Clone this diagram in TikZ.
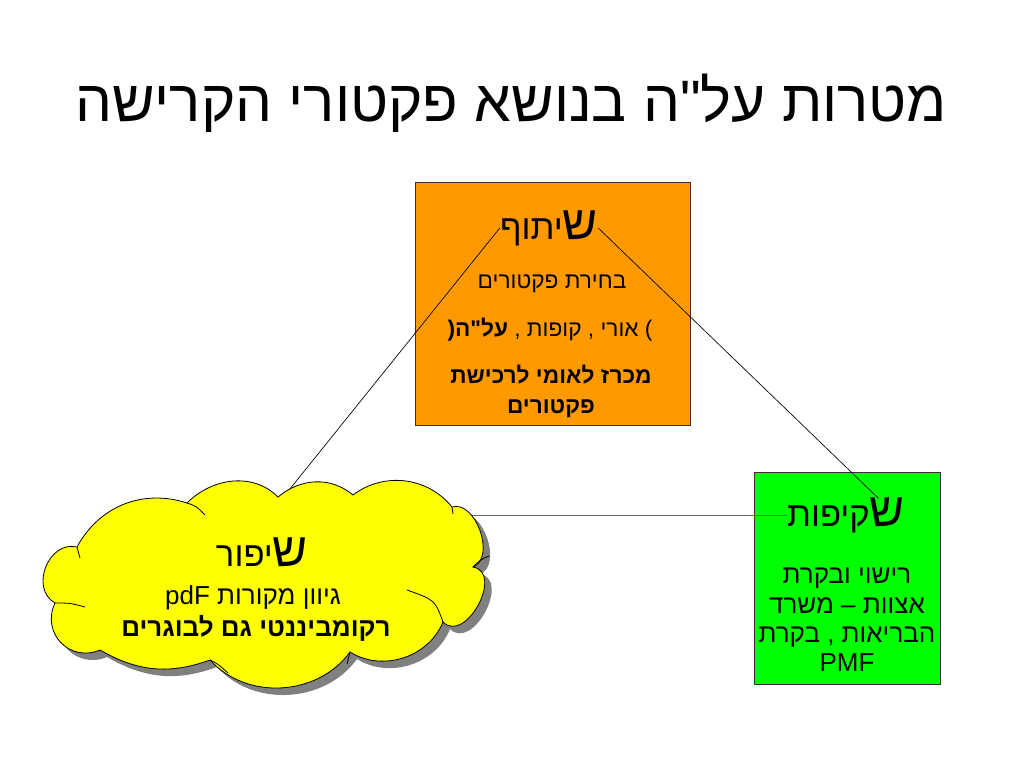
\documentclass[tikz,border=0pt]{standalone}
\usepackage{fontspec}
\setmainfont{Liberation Sans}[Script=Hebrew, Ligatures=TeXOff]
\TeXXeTstate=1
\newcommand\rtl[1]{\beginR #1\endR}
\definecolor{orangefill}{HTML}{FF9900}
\definecolor{greenfill}{HTML}{00FF00}
\definecolor{yellowfill}{HTML}{FFFF00}
\definecolor{shadowgray}{HTML}{808080}
\definecolor{boxline}{HTML}{333333}
\tikzset{
  box/.style={draw=boxline, line width=0.6pt, anchor=north west, inner sep=0pt},
  txt/.style={inner sep=0pt, align=center},
  body/.style={txt, font=\fontsize{17}{22.5}\selectfont},
  gbody/.style={txt, font=\fontsize{19.5}{22}\selectfont},
  conn/.style={draw=black, line width=0.5pt},
  cloudline/.style={draw=black, line width=0.6pt},
}
% heading word with a larger first letter
\newcommand\bigfirst[2]{\rtl{{\fontsize{36}{40}\selectfont #1}{\fontsize{26}{30}\selectfont #2}}}
\newcommand\cloudpath{(77,547) to[out=61.8,in=161.8] (187,503) to[out=45,in=135] (278,497)
  to[out=40,in=140] (353,495) to[out=37,in=129] (452,507) to[out=17,in=21] (473,567)
  to[out=-10,in=-45,looseness=1.3] (443,622) to[out=-112,in=-32] (350,652) to[out=-126,in=-47.8] (210,660)
  to[out=-160,in=-30] (100,650) to[out=202.8,in=244.8,looseness=1.3] (55,603)
  to[out=150.6,in=166.6,looseness=1.25] (77,547)}
\begin{document}
\begin{tikzpicture}[x=0.75pt,y=-0.75pt]
\useasboundingbox (0,0) rectangle (1024,768);
\fill[white] (0,0) rectangle (1024,768);
% title
\node[txt] (title) at (511,103) {\fontsize{43.8}{52}\selectfont\rtl{מטרות על"ה בנושא פקטורי הקרישה}};
% boxes
\node[box, fill=orangefill, minimum width=206.25pt, minimum height=182.25pt] (coop) at (415,182) {};
\node[box, fill=greenfill, minimum width=139.5pt, minimum height=159pt] (transp) at (754,472) {};
% heading words
\node[txt] (coopw) at (549,228) {\bigfirst{ש}{יתוף}};
\node[txt] (transpw) at (846,515) {\bigfirst{ש}{קיפות}};
% cloud anchor and connector end hidden under the cloud
\coordinate (cloud) at (265,583);
\coordinate (c1) at (273,510);
% connectors (over the boxes, under the cloud)
\draw[conn] (coopw.west) -- (c1);
\draw[conn] (coopw.east) -- ([xshift=-20pt,yshift=-1pt]transpw.north east);
\draw[conn, draw=black!60] (transpw.west) -- (transpw.west -| cloud);
% cloud with shadow
\fill[shadowgray, shift={(7,7)}] \cloudpath -- cycle;
\filldraw[cloudline, fill=yellowfill] \cloudpath -- cycle;
\draw[cloudline] (77,547) .. controls (79,552) .. (80,558);
\draw[cloudline] (187,503) .. controls (196,506) .. (205,515);
\draw[cloudline] (452,507) .. controls (453,510) .. (453,514);
\draw[cloudline] (473,567) .. controls (480,560) .. (489,556);
\draw[cloudline] (443,622) .. controls (435,600) .. (407,590);
\draw[cloudline] (350,652) .. controls (348,658) .. (347,664);
\draw[cloudline] (210,660) .. controls (218,664) .. (228,673);
\draw[cloudline] (55,603) .. controls (70,603) .. (85,607);
\node[txt] (cloudw) at (262,552) {\bigfirst{ש}{יפור}};
% orange texts
\node[body] (o1) at (552,284) {\rtl{בחירת פקטורים}};
\node[body] (o2) at (550,330) {{\bfseries (}\rtl{אורי , קופות , {\bfseries על"ה}} )};
\node[body, font=\fontsize{17}{22.5}\selectfont\bfseries] (o3) at (551,391) {\rtl{מכרז לאומי לרכישת}\\\rtl{פקטורים}};
% green texts
\node[gbody] (g1) at (847,620) {\rtl{רישוי ובקרת}\\\rtl{אצוות – משרד}\\\rtl{הבריאות , בקרת}\\PMF};
% cloud texts
\node[txt, font=\fontsize{19.5}{22}\selectfont] (y1) at (253,598) {\rtl{גיוון מקורות \beginL pdF\endL}};
\node[txt, font=\fontsize{19.5}{22}\selectfont\bfseries] (y2) at (256,628) {\rtl{רקומביננטי גם לבוגרים}};
\end{tikzpicture}
\end{document}
